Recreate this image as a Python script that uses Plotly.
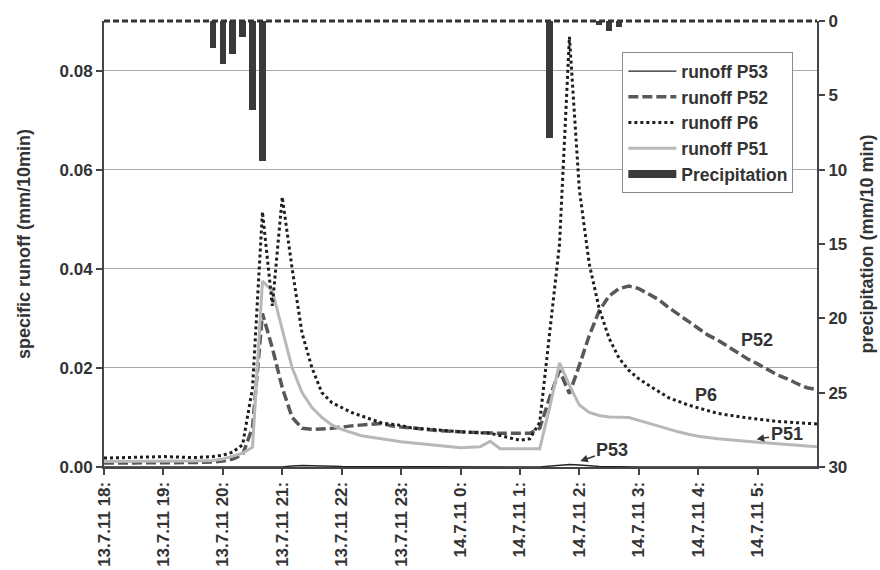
import plotly.graph_objects as go

# ---------------- data ----------------
p6_time = ["13 18:00", "13 18:30", "13 19:00", "13 19:30", "13 19:50", "13 20:00", "13 20:10", "13 20:20",
           "13 20:30", "13 20:40", "13 20:50", "13 21:00", "13 21:10", "13 21:20", "13 21:30", "13 21:40",
           "13 21:50", "13 22:00", "13 22:10", "13 22:40", "13 23:00", "13 23:10", "13 23:40", "14 00:00",
           "14 00:30", "14 01:00", "14 01:10", "14 01:20", "14 01:30", "14 01:40", "14 01:50", "14 02:00",
           "14 02:10", "14 02:20", "14 02:30", "14 02:40", "14 02:50", "14 03:00", "14 03:10", "14 03:20",
           "14 03:30", "14 03:50", "14 04:20", "14 04:50", "14 05:20", "14 05:50", "14 06:00"]
p6_val = [0.0018, 0.0020, 0.0021, 0.0019, 0.0021, 0.0024, 0.0030, 0.0045,
          0.0160, 0.0515, 0.0325, 0.0545, 0.0400, 0.0270, 0.0200, 0.0150,
          0.0130, 0.0120, 0.0110, 0.0089, 0.0084, 0.0079, 0.0074, 0.0071,
          0.0068, 0.0054, 0.0057, 0.0090, 0.0270, 0.0450, 0.0868, 0.0560,
          0.0410, 0.0320, 0.0260, 0.0220, 0.0195, 0.0178, 0.0165, 0.0152,
          0.0140, 0.0125, 0.0108, 0.0099, 0.0092, 0.0088, 0.0087]

p52_time = ["13 18:00", "13 18:30", "13 19:00", "13 19:30", "13 19:50", "13 20:00", "13 20:10", "13 20:20",
            "13 20:30", "13 20:40", "13 20:50", "13 21:00", "13 21:10", "13 21:20", "13 21:30", "13 21:50",
            "13 22:10", "13 22:30", "13 22:40", "13 22:50", "13 23:00", "13 23:20", "13 23:40", "14 00:00",
            "14 00:20", "14 00:40", "14 01:00", "14 01:10", "14 01:20", "14 01:30", "14 01:40", "14 01:50",
            "14 02:00", "14 02:10", "14 02:20", "14 02:30", "14 02:40", "14 02:50", "14 03:00", "14 03:10",
            "14 03:20", "14 03:30", "14 03:40", "14 03:50", "14 04:00", "14 04:10", "14 04:20", "14 04:30",
            "14 04:40", "14 04:50", "14 05:00", "14 05:10", "14 05:20", "14 05:30", "14 05:40", "14 05:50",
            "14 06:00"]
p52_val = [0.0008, 0.0008, 0.0009, 0.0009, 0.0010, 0.0012, 0.0016, 0.0025,
           0.0080, 0.0310, 0.0240, 0.0160, 0.0100, 0.0078, 0.0076, 0.0078,
           0.0083, 0.0086, 0.0088, 0.0083, 0.0081, 0.0077, 0.0073, 0.0071,
           0.0069, 0.0068, 0.0068, 0.0068, 0.0078, 0.0140, 0.0195, 0.0148,
           0.0205, 0.0265, 0.0315, 0.0345, 0.0360, 0.0365, 0.0360, 0.0350,
           0.0338, 0.0322, 0.0308, 0.0293, 0.0280, 0.0266, 0.0256, 0.0243,
           0.0230, 0.0218, 0.0208, 0.0197, 0.0186, 0.0178, 0.0168, 0.0160,
           0.0156]

p51_time = ["13 18:00", "13 18:30", "13 19:00", "13 19:30", "13 19:50", "13 20:00", "13 20:10", "13 20:20",
            "13 20:30", "13 20:40", "13 20:50", "13 21:00", "13 21:10", "13 21:20", "13 21:30", "13 21:40",
            "13 21:50", "13 22:00", "13 22:20", "13 22:40", "13 23:00", "13 23:20", "13 23:40", "14 00:00",
            "14 00:20", "14 00:30", "14 00:40", "14 01:00", "14 01:20", "14 01:30", "14 01:40", "14 01:50",
            "14 02:00", "14 02:10", "14 02:20", "14 02:30", "14 02:40", "14 02:50", "14 03:00", "14 03:10",
            "14 03:20", "14 03:30", "14 03:40", "14 03:50", "14 04:00", "14 04:20", "14 04:40", "14 05:00",
            "14 05:20", "14 05:40", "14 06:00"]
p51_val = [0.0011, 0.0011, 0.0012, 0.0012, 0.0013, 0.0016, 0.0022, 0.0028,
           0.0040, 0.0375, 0.0355, 0.0275, 0.0200, 0.0150, 0.0120, 0.0100,
           0.0085, 0.0076, 0.0063, 0.0057, 0.0051, 0.0047, 0.0043, 0.0039,
           0.0041, 0.0052, 0.0037, 0.0037, 0.0037, 0.0120, 0.0210, 0.0165,
           0.0125, 0.0110, 0.0104, 0.0101, 0.0101, 0.0100, 0.0094, 0.0088,
           0.0082, 0.0077, 0.0071, 0.0066, 0.0062, 0.0057, 0.0053, 0.0050,
           0.0047, 0.0044, 0.0041]

p53_time = ["13 18:00", "13 21:00", "13 21:10", "13 21:20", "13 21:40", "13 22:00", "14 01:20",
            "14 01:40", "14 01:50", "14 02:00", "14 02:20", "14 03:00", "14 06:00"]
p53_val = [0.0000, 0.0000, 0.0002, 0.0003, 0.0002, 0.0001, 0.0000,
           0.0003, 0.0005, 0.0004, 0.0001, 0.0000, 0.0000]

precip_time = ["13 19:50", "13 20:00", "13 20:10", "13 20:20", "13 20:30", "13 20:40",
               "14 01:30", "14 02:20", "14 02:30", "14 02:40"]
precip_val = [1.8, 2.9, 2.2, 1.1, 6.0, 9.4, 7.9, 0.3, 0.7, 0.4]

tick_hours = ["13 18:00", "13 19:00", "13 20:00", "13 21:00", "13 22:00", "13 23:00", "14 00:00",
              "14 01:00", "14 02:00", "14 03:00", "14 04:00", "14 05:00"]
tick_text = ["13.7.11 18:", "13.7.11 19:", "13.7.11 20:", "13.7.11 21:", "13.7.11 22:", "13.7.11 23:",
             "14.7.11 0:", "14.7.11 1:", "14.7.11 2:", "14.7.11 3:", "14.7.11 4:", "14.7.11 5:"]


def ts(s):
    day, hm = s.split()
    return f"2011-07-{day} {hm}"


def tlist(lst):
    return [ts(s) for s in lst]


FONT = "Arial, Liberation Sans, sans-serif"
TXT = "#333333"
AX = "#454545"

fig = go.Figure()

fig.add_trace(go.Bar(x=tlist(precip_time), y=precip_val, yaxis="y2", width=400000,
                     marker=dict(color="#3a3a3a", line=dict(width=0)),
                     name="Precipitation", showlegend=False))

fig.add_trace(go.Scatter(x=tlist(p53_time), y=p53_val, mode="lines", name="runoff P53",
                         line=dict(color="#222222", width=1.3), legendgroup="a", legendrank=1))
fig.add_trace(go.Scatter(x=tlist(p52_time), y=p52_val, mode="lines", name="runoff P52",
                         line=dict(color="#585858", width=3.5, dash="10px,4px"), legendgroup="b",
                         legendrank=2))
fig.add_trace(go.Scatter(x=tlist(p51_time), y=p51_val, mode="lines", name="runoff P51",
                         line=dict(color="#b8b8b8", width=3), legendgroup="d", legendrank=4))
fig.add_trace(go.Scatter(x=tlist(p6_time), y=p6_val, mode="lines", name="runoff P6",
                         line=dict(color="#1e1e1e", width=3, dash="dot"), legendgroup="c", legendrank=3))
# legend entry for the precipitation bars (thick bar symbol as in the reference)
fig.add_trace(go.Scatter(x=[None], y=[None], mode="lines", name="Precipitation",
                         line=dict(color="#3a3a3a", width=8), legendgroup="e", legendrank=5))

# top dashed line at precipitation 0
fig.add_shape(type="line", xref="paper", yref="paper", x0=0, x1=1, y0=1, y1=1,
              line=dict(color="#333333", width=3, dash="6px,3px"))

ann_font = dict(family=FONT, size=18, color=TXT, weight="bold")
fig.add_annotation(x=ts("14 04:59"), y=0.0256, text="P52", showarrow=False, font=ann_font)
fig.add_annotation(x=ts("14 04:08"), y=0.0145, text="P6", showarrow=False, font=ann_font)
fig.add_annotation(x=ts("14 04:59"), y=0.0056, text="P51", showarrow=True, ax=30, ay=-5,
                   arrowhead=2, arrowsize=1, arrowwidth=1.5, arrowcolor=TXT, font=ann_font)
fig.add_annotation(x=ts("14 02:01"), y=0.0012, text="P53", showarrow=True, ax=32, ay=-11,
                   arrowhead=2, arrowsize=1, arrowwidth=1.5, arrowcolor=TXT, font=ann_font)

tickfont = dict(family=FONT, size=17, color=TXT, weight="bold")
titlefont = dict(family=FONT, size=18, color=TXT, weight="bold")

fig.update_layout(
    width=880, height=570,
    margin=dict(l=104, r=63, t=21, b=103),
    paper_bgcolor="white", plot_bgcolor="white",
    font=dict(family=FONT, color=TXT),
    bargap=0,
    xaxis=dict(type="date", range=[ts("13 18:00"), ts("14 06:00")],
               tickvals=tlist(tick_hours), ticktext=tick_text, tickangle=-90,
               tickfont=tickfont, showgrid=False, zeroline=False,
               showline=True, linecolor=AX, linewidth=2,
               ticks="outside", ticklen=6, tickcolor=AX, tickwidth=1.5, automargin=False),
    yaxis=dict(range=[0, 0.09], tickvals=[0, 0.02, 0.04, 0.06, 0.08], tickformat=".2f",
               tickfont=tickfont, showgrid=True, gridcolor="#a9a9a9", gridwidth=1,
               zeroline=False, showline=True, linecolor=AX, linewidth=2,
               ticks="outside", ticklen=6, tickcolor=AX, tickwidth=1.5, automargin=False,
               title=dict(text="specific runoff (mm/10min)", font=titlefont, standoff=24)),
    yaxis2=dict(overlaying="y", side="right", range=[30, 0],
                tickvals=[0, 5, 10, 15, 20, 25, 30],
                tickfont=tickfont, showgrid=False, zeroline=False,
                showline=True, linecolor=AX, linewidth=2,
                ticks="outside", ticklen=6, tickcolor=AX, tickwidth=1.5, automargin=False,
                title=dict(text="precipitation (mm/10 min)", font=titlefont, standoff=14)),
    legend=dict(x=0.727, y=0.93, xanchor="left", yanchor="top",
                bgcolor="white", bordercolor="#8a8a8a", borderwidth=1,
                font=dict(family=FONT, size=17.5, color=TXT, weight="bold"),
                traceorder="normal", tracegroupgap=5, itemwidth=48),
)

fig.write_html("out.html")
